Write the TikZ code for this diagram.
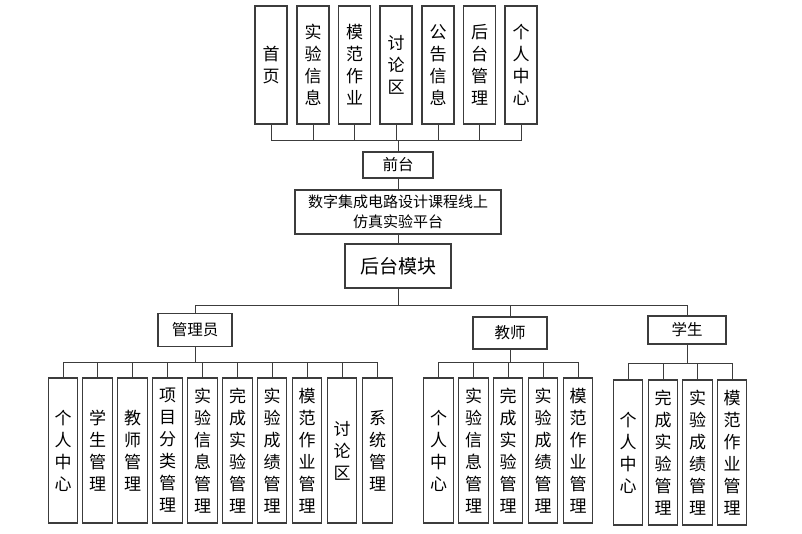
\documentclass[tikz,border=0pt]{standalone}
\usepackage{fontspec}
\setmainfont{Noto Sans CJK SC}
\definecolor{linec}{HTML}{3C3C3C}
\begin{document}
\begin{tikzpicture}[x=1pt,y=-1pt,
  box/.style={draw=linec,line width=1.1pt,fill=white,inner sep=0pt,align=center},
  vbox/.style={box,minimum width=30pt,font=\fontsize{17}{22}\selectfont},
  topbox/.style={vbox,minimum width=32pt,minimum height=118pt},
  botbox/.style={vbox,minimum width=29.5pt,minimum height=145pt},
  hbox/.style={box,font=\fontsize{15.5}{18}\selectfont},
  conn/.style={draw=linec,line width=1pt}]
\useasboundingbox (0,0) rectangle (802,534);
\fill[white] (0,0) rectangle (802,534);
% top modules
\node[topbox] (t1) at (271,65) {首\\页};
\node[topbox] (t2) at (313,65) {实\\验\\信\\息};
\node[topbox] (t3) at (354.5,65) {模\\范\\作\\业};
\node[topbox] (t4) at (396,65) {讨\\论\\区};
\node[topbox] (t5) at (438,65) {公\\告\\信\\息};
\node[topbox] (t6) at (479.5,65) {后\\台\\管\\理};
\node[topbox] (t7) at (521,65) {个\\人\\中\\心};
\node[hbox,minimum width=70pt,minimum height=26pt] (qt) at (398,165) {前台};
\node[box,minimum width=206pt,minimum height=44pt,font=\fontsize{15}{20}\selectfont] (plat) at (398,212) {数字集成电路设计课程线上\\仿真实验平台};
\node[box,minimum width=106pt,minimum height=44pt,font=\fontsize{19}{22}\selectfont] (ht) at (398,266) {后台模块};
\coordinate (bus1) at (398,141);
\foreach \i in {1,...,7} {\draw[conn] (t\i.south) |- (bus1);}
\draw[conn] (bus1) -- (qt.north);
\draw[conn] (qt.south) -- (plat.north);
\draw[conn] (plat.south) -- (ht.north);
% roles
\node[hbox,minimum width=74pt,minimum height=33pt] (gly) at (195,330) {管理员};
\node[hbox,minimum width=74pt,minimum height=32pt] (js) at (510,333) {教师};
\node[hbox,minimum width=78pt,minimum height=28pt] (xs) at (687,330) {学生};
\coordinate (bus2) at (398,305);
\draw[conn] (ht.south) -- (bus2);
\draw[conn] (bus2) -| (gly.north);
\draw[conn] (bus2) -| (js.north);
\draw[conn] (bus2) -| (xs.north);
% admin
\node[botbox] (a1) at (63,450.5) {个\\人\\中\\心};
\node[botbox] (a2) at (97.5,450.5) {学\\生\\管\\理};
\node[botbox] (a3) at (132.5,450.5) {教\\师\\管\\理};
\node[botbox] (a4) at (167.5,450.5) {项\\目\\分\\类\\管\\理};
\node[botbox] (a5) at (202.5,450.5) {实\\验\\信\\息\\管\\理};
\node[botbox] (a6) at (237.5,450.5) {完\\成\\实\\验\\管\\理};
\node[botbox] (a7) at (272,450.5) {实\\验\\成\\绩\\管\\理};
\node[botbox] (a8) at (307,450.5) {模\\范\\作\\业\\管\\理};
\node[botbox] (a9) at (342,450.5) {讨\\论\\区};
\node[botbox] (a10) at (377.5,450.5) {系\\统\\管\\理};
\coordinate (busA) at (195,362);
\draw[conn] (gly.south) -- (busA);
\foreach \i in {1,...,10} {\draw[conn] (busA) -| (a\i.north);}
% teacher
\node[botbox] (b1) at (438.5,450.5) {个\\人\\中\\心};
\node[botbox] (b2) at (473.5,450.5) {实\\验\\信\\息\\管\\理};
\node[botbox] (b3) at (508,450.5) {完\\成\\实\\验\\管\\理};
\node[botbox] (b4) at (543,450.5) {实\\验\\成\\绩\\管\\理};
\node[botbox] (b5) at (578,450.5) {模\\范\\作\\业\\管\\理};
\coordinate (busB) at (510,362);
\draw[conn] (js.south) -- (busB);
\foreach \i in {1,...,5} {\draw[conn] (busB) -| (b\i.north);}
% student
\node[botbox] (c1) at (628,452.5) {个\\人\\中\\心};
\node[botbox] (c2) at (663,452.5) {完\\成\\实\\验\\管\\理};
\node[botbox] (c3) at (697.5,452.5) {实\\验\\成\\绩\\管\\理};
\node[botbox] (c4) at (732,452.5) {模\\范\\作\\业\\管\\理};
\coordinate (busC) at (687,363);
\draw[conn] (xs.south) -- (busC);
\foreach \i in {1,...,4} {\draw[conn] (busC) -| (c\i.north);}
\end{tikzpicture}
\end{document}
